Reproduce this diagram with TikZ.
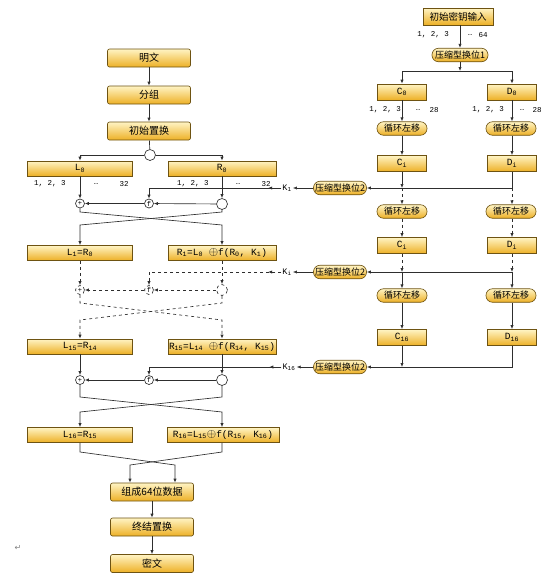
\documentclass[tikz,border=0pt]{standalone}
\usepackage{fontspec}
\setmainfont{Liberation Mono}
\newfontfamily\cjk{Noto Sans CJK SC}
\newfontfamily\dejavu{DejaVu Sans}
\usetikzlibrary{arrows.meta,positioning,calc}
\definecolor{boxtop}{HTML}{FFF4C4}
\definecolor{boxbot}{HTML}{EDB025}
\definecolor{boxline}{HTML}{6E5312}
\definecolor{wire}{HTML}{2E2E2E}
\newcommand\low[1]{\textsubscript{#1}}
\newcommand\xo{{\large$\oplus$}}
\tikzset{
  >={Latex[length=4pt,width=3.2pt]},
  block/.style={draw=boxline, top color=boxtop, bottom color=boxbot, rounded corners=2pt, minimum width=83pt, minimum height=18pt, inner sep=1pt, text=black, font=\cjk\fontsize{10}{11}\selectfont},
  reg/.style={draw=boxline, top color=boxtop, bottom color=boxbot, minimum width=105pt, minimum height=15pt, inner sep=1pt, text=black, font=\fontsize{9.5}{10}\selectfont},
  regr/.style={reg, minimum width=108pt},
  half/.style={reg, minimum width=49pt, minimum height=16pt},
  keyin/.style={reg, minimum width=70pt, minimum height=17pt, font=\cjk\fontsize{9.5}{10}\selectfont},
  pill/.style={draw=boxline, top color=boxtop, bottom color=boxbot, rounded corners=6.5pt, minimum width=50pt, minimum height=13.5pt, inner sep=1pt, text=black, font=\cjk\fontsize{9}{9}\selectfont},
  op/.style={circle, draw, fill=white, inner sep=0pt, minimum size=9pt, text=black, font=\fontsize{7}{7}\selectfont},
  tap/.style={op, minimum size=11pt},
  bits/.style={inner sep=0pt, text=black, font=\fontsize{7.5}{8}\selectfont},
  klab/.style={inner sep=1pt, text=black, font=\fontsize{8.5}{9}\selectfont},
}
\begin{document}
\begin{tikzpicture}[x=1pt, y=-1pt, color=wire, line width=0.65pt]
  \useasboundingbox (0,0) rectangle (556,584);
  % plaintext side
  \node[block] (plain) at (149,58) {明文};
  \node[block] (group) at (149,95) {分组};
  \node[block] (ip) at (149,131) {初始置换};
  \node[tap] (s0) at (150,155) {};
  \node[reg] (L0) at (80,168.5) {L\low{0}};
  \node[regr] (R0) at (222,168.5) {R\low{0}};
  \node[bits] at (50,184) {1, 2, 3};
  \node[bits] at (96,184) {…};
  \node[bits] at (124,184) {32};
  \node[bits] at (193,184) {1, 2, 3};
  \node[bits] at (238,184) {…};
  \node[bits] at (266,184) {32};
  \draw[->] (plain) -- (group);
  \draw[->] (group) -- (ip);
  \draw (ip) -- (s0);
  \draw[->] (s0.west) -| (L0.north);
  \draw[->] (s0.east) -| (R0.north);

  % round 1
  \node[op] (x1) at (80,203.5) {+};
  \node[op] (f1) at (149,203.5) {f};
  \node[tap] (s1) at (222,204) {};
  \draw[->] (L0) -- (x1);
  \draw[->] (R0) -- (s1);
  \draw[->] (s1) -- (f1);
  \draw[->] (f1) -- (x1);
  \node[reg] (L1) at (80,253) {L\low{1}=R\low{0}};
  \node[regr] (R1) at (222,253) {R\low{1}=L\low{0} \xo f(R\low{0}, K\low{1})};
  \draw[->] (x1.south) -- (80,212) -- (222,225) -- (R1.north);
  \draw[->] (s1.south) -- (222,212) -- (80,225) -- (L1.north);

  % round i
  \node[op, dashed] (x2) at (80,290) {+};
  \node[op, dashed] (f2) at (149,290) {f};
  \node[tap, dashed] (s2) at (222,290) {};
  \draw[->, dashed] (L1) -- (x2);
  \draw[->, dashed] (R1) -- (s2);
  \draw[->, dashed] (s2) -- (f2);
  \draw[->, dashed] (f2) -- (x2);
  \node[reg] (L15) at (80,346.5) {L\low{15}=R\low{14}};
  \node[regr] (R15) at (222,346.5) {R\low{15}=L\low{14} \xo f(R\low{14}, K\low{15})};
  \draw[->, dashed] (x2.south) -- (80,303) -- (222,320) -- (R15.north);
  \draw[->, dashed] (s2.south) -- (222,303) -- (80,320) -- (L15.north);

  % round 16
  \node[op] (x3) at (80,380) {+};
  \node[op] (f3) at (149,380) {f};
  \node[tap] (s3) at (222,380) {};
  \draw[->] (L15) -- (x3);
  \draw[->] (R15) -- (s3);
  \draw[->] (s3) -- (f3);
  \draw[->] (f3) -- (x3);
  \node[reg] (L16) at (80,435) {L\low{16}=R\low{15}};
  \node[regr, minimum width=112pt] (R16) at (223,435) {R\low{16}=L\low{15}\xo f(R\low{15}, K\low{16})};
  \draw[->] (x3.south) -- (80,397) -- (222,412) -- (R16.north -| s3);
  \draw[->] (s3.south) -- (222,397) -- (80,412) -- (L16.north);

  % output
  \node[block] (comb) at (152,492) {组成64位数据};
  \node[block] (fp) at (152,527) {终结置换};
  \node[block] (cipher) at (152,563.5) {密文};
  \coordinate (cl) at (175,465);
  \coordinate (cr) at (130,465);
  \draw[->] (L16.south) -- (80,452) -- (cl) -- (cl |- comb.north);
  \draw[->] (R16.south -| s3) -- (222,452) -- (cr) -- (cr |- comb.north);
  \draw[->] (comb) -- (fp);
  \draw[->] (fp) -- (cipher);
  \node[text=gray, font=\dejavu\fontsize{8}{8}\selectfont] (ret) at (18,548) {↵};

  % key schedule
  \node[keyin] (kin) at (458,16.5) {初始密钥输入};
  \node[bits] at (433,35) {1, 2, 3};
  \node[bits] at (470,35) {…};
  \node[bits] at (483,35) {64};
  \node[pill, minimum width=56pt] (pc1) at (460,55) {压缩型换位1};
  \draw[->] (kin.south -| pc1) -- (pc1.north);
  \coordinate (br) at (460,71);
  \draw[->] (pc1) -- (br);
  \node[half] (C0) at (402,92) {C\low{0}};
  \node[half] (D0) at (512,92) {D\low{0}};
  \draw[->] (br) -| (C0.north);
  \draw[->] (br) -| (D0.north);
  \node[bits] at (385,110) {1, 2, 3};
  \node[bits] at (418,110) {…};
  \node[bits] at (434,110) {28};
  \node[bits] at (488,110) {1, 2, 3};
  \node[bits] at (522,110) {…};
  \node[bits] at (537,110) {28};
  \node[pill] (lc1) at (402,128.5) {循环左移};
  \node[pill] (ld1) at (511,128.5) {循环左移};
  \draw[->] (C0) -- (lc1);
  \draw[->] (D0.south) -- (D0.south |- ld1.north);
  \node[half] (C1) at (402,163.5) {C\low{i}};
  \node[half] (D1) at (512,163.5) {D\low{i}};
  \draw[->] (lc1) -- (C1);
  \draw[->] (ld1.south -| D1) -- (D1.north);

  % subkey K1
  \node[pill, minimum width=53pt] (pc2a) at (340,188) {压缩型换位2};
  \node[klab] (k1) at (287,188) {K\low{1}};
  \coordinate (jc1) at (402,188);
  \coordinate (jd1) at (512,188);
  \draw[->] (C1) -- (jc1);
  \draw[->] (D1) -- (jd1) -- (pc2a.east);
  \draw[->] (pc2a.west) -- (k1.east);
  \draw[->] (k1.west) -- ++(-13,0);
  \draw[->] (k1.west) -| (f1.north);
  \node[pill] (lc2) at (402,211.5) {循环左移};
  \node[pill] (ld2) at (511,211.5) {循环左移};
  \draw[->, dashed] (jc1) -- (lc2);
  \draw[->, dashed] (jd1) -- (jd1 |- ld2.north);
  \node[half] (C2) at (402,245.5) {C\low{i}};
  \node[half] (D2) at (512,245.5) {D\low{i}};
  \draw[->, dashed] (lc2) -- (C2);
  \draw[->, dashed] (ld2.south -| D2) -- (D2.north);

  % subkey Ki
  \node[pill, minimum width=53pt] (pc2b) at (340,272) {压缩型换位2};
  \node[klab] (ki) at (287,272) {K\low{i}};
  \coordinate (jc2) at (402,272);
  \coordinate (jd2) at (512,272);
  \draw[->, dashed] (C2) -- (jc2);
  \draw[->, dashed] (D2) -- (jd2);
  \draw[->] (jd2) -- (pc2b.east);
  \draw[->] (pc2b.west) -- (ki.east);
  \draw[->, dashed] (ki.west) -- ++(-13,0);
  \draw[->, dashed] (ki.west) -| (f2.north);
  \node[pill] (lc3) at (402,295.5) {循环左移};
  \node[pill] (ld3) at (511,295.5) {循环左移};
  \draw[->] (jc2) -- (lc3);
  \draw[->] (jd2) -- (jd2 |- ld3.north);
  \node[half] (C16) at (402,337.5) {C\low{16}};
  \node[half] (D16) at (512,337.5) {D\low{16}};
  \draw[->] (lc3) -- (C16);
  \draw[->] (ld3.south -| D16) -- (D16.north);

  % subkey K16
  \node[pill, minimum width=53pt] (pc2c) at (340,367) {压缩型换位2};
  \node[klab] (k16) at (289,367) {K\low{16}};
  \coordinate (jc3) at (402,367);
  \draw[->] (C16) -- (jc3);
  \draw[->] (D16.south) |- (pc2c.east);
  \draw[->] (pc2c.west) -- (k16.east);
  \draw[->] (k16.west) -- ++(-12,0);
  \draw[->] (k16.west) -| (f3.north);
\end{tikzpicture}
\end{document}
